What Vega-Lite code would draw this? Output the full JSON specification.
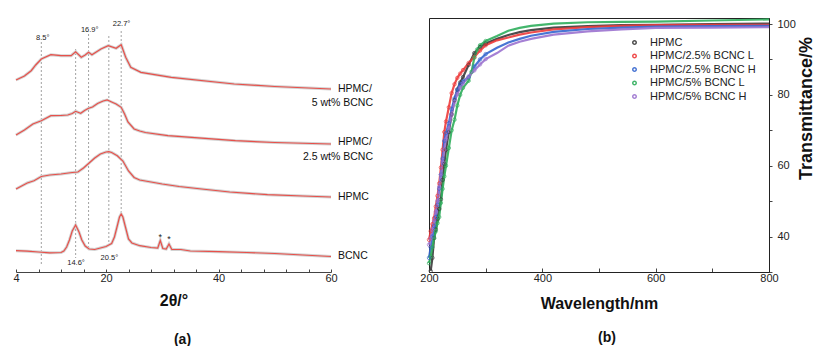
{
  "$schema": "https://vega.github.io/schema/vega-lite/v6.json",
  "padding": {"top": 14, "left": 10, "right": 0, "bottom": 0},
  "background": "white",
  "config": {
    "font": "Liberation Sans",
    "view": {"stroke": null},
    "axis": {"labelFont": "Liberation Sans", "titleFont": "Liberation Sans", "grid": false, "labelColor": "#222", "titleColor": "#111", "domainColor": "#444", "tickColor": "#444", "labelOverlap": false, "labelFlush": false},
    "title": {"font": "Liberation Sans"},
    "legend": {"labelFont": "Liberation Sans"}
  },
  "datasets": {
    "xrd": [
      {"s":"BCNC","t":4,"v":21.3},{"s":"BCNC","t":6,"v":20.8},{"s":"BCNC","t":8,"v":20},{"s":"BCNC","t":10,"v":19.2},{"s":"BCNC","t":12,"v":19.5},{"s":"BCNC","t":12.5,"v":21},{"s":"BCNC","t":13,"v":25},{"s":"BCNC","t":13.5,"v":32},{"s":"BCNC","t":14,"v":41},{"s":"BCNC","t":14.6,"v":47},{"s":"BCNC","t":15.2,"v":40},{"s":"BCNC","t":15.7,"v":32},{"s":"BCNC","t":16.3,"v":26},{"s":"BCNC","t":17,"v":23},{"s":"BCNC","t":18,"v":22.5},{"s":"BCNC","t":19,"v":24},{"s":"BCNC","t":20,"v":25.5},{"s":"BCNC","t":20.5,"v":27},{"s":"BCNC","t":21,"v":28.5},{"s":"BCNC","t":21.5,"v":35},{"s":"BCNC","t":22,"v":46},{"s":"BCNC","t":22.4,"v":55},{"s":"BCNC","t":22.7,"v":58},{"s":"BCNC","t":23,"v":55},{"s":"BCNC","t":23.5,"v":44},{"s":"BCNC","t":24,"v":33},{"s":"BCNC","t":24.6,"v":29},{"s":"BCNC","t":26,"v":26.3},{"s":"BCNC","t":28,"v":24.5},{"s":"BCNC","t":29.2,"v":24},{"s":"BCNC","t":29.65,"v":31.5},{"s":"BCNC","t":30.1,"v":23.5},{"s":"BCNC","t":30.7,"v":23},{"s":"BCNC","t":31.2,"v":28},{"s":"BCNC","t":31.7,"v":22.5},{"s":"BCNC","t":33.3,"v":22.5},{"s":"BCNC","t":35,"v":21},{"s":"BCNC","t":40,"v":20.3},{"s":"BCNC","t":45,"v":19.5},{"s":"BCNC","t":50,"v":18.5},{"s":"BCNC","t":55,"v":17},{"s":"BCNC","t":60,"v":15.5},
      {"s":"HPMC","t":4,"v":83},{"s":"HPMC","t":5,"v":86},{"s":"HPMC","t":6,"v":89},{"s":"HPMC","t":7.2,"v":91.3},{"s":"HPMC","t":8.5,"v":95.5},{"s":"HPMC","t":10,"v":97},{"s":"HPMC","t":12,"v":98},{"s":"HPMC","t":14,"v":99.5},{"s":"HPMC","t":15,"v":100},{"s":"HPMC","t":16,"v":104},{"s":"HPMC","t":17,"v":109},{"s":"HPMC","t":18,"v":114},{"s":"HPMC","t":19,"v":118},{"s":"HPMC","t":20,"v":120},{"s":"HPMC","t":20.5,"v":120.3},{"s":"HPMC","t":21,"v":119.5},{"s":"HPMC","t":22,"v":116.3},{"s":"HPMC","t":23,"v":111},{"s":"HPMC","t":24,"v":101},{"s":"HPMC","t":25,"v":94.5},{"s":"HPMC","t":26,"v":92},{"s":"HPMC","t":28,"v":90},{"s":"HPMC","t":30,"v":88},{"s":"HPMC","t":33,"v":85.5},{"s":"HPMC","t":37,"v":83},{"s":"HPMC","t":42,"v":80},{"s":"HPMC","t":48.7,"v":77.3},{"s":"HPMC","t":55,"v":76},{"s":"HPMC","t":60,"v":75},
      {"s":"H25","t":4,"v":137},{"s":"H25","t":5.5,"v":142},{"s":"H25","t":7,"v":148},{"s":"H25","t":8.5,"v":151.3},{"s":"H25","t":10.2,"v":156.3},{"s":"H25","t":12,"v":156.5},{"s":"H25","t":13.2,"v":157},{"s":"H25","t":14,"v":158.5},{"s":"H25","t":14.6,"v":160.7},{"s":"H25","t":15.5,"v":158.7},{"s":"H25","t":16.2,"v":161.5},{"s":"H25","t":16.9,"v":163.7},{"s":"H25","t":17.6,"v":165},{"s":"H25","t":18.5,"v":168.5},{"s":"H25","t":19.5,"v":171},{"s":"H25","t":20.2,"v":172},{"s":"H25","t":21.2,"v":169.5},{"s":"H25","t":21.8,"v":168},{"s":"H25","t":22.7,"v":164.7},{"s":"H25","t":23.3,"v":158},{"s":"H25","t":23.9,"v":150},{"s":"H25","t":25,"v":143},{"s":"H25","t":26,"v":141},{"s":"H25","t":27,"v":139.5},{"s":"H25","t":31,"v":136.3},{"s":"H25","t":43,"v":131.3},{"s":"H25","t":50,"v":129.5},{"s":"H25","t":60,"v":128},
      {"s":"H5","t":4,"v":192},{"s":"H5","t":5.5,"v":196},{"s":"H5","t":6.7,"v":201.3},{"s":"H5","t":7.5,"v":207},{"s":"H5","t":8.5,"v":213},{"s":"H5","t":10.2,"v":217.3},{"s":"H5","t":12,"v":216.3},{"s":"H5","t":13.8,"v":216.3},{"s":"H5","t":14.6,"v":220.3},{"s":"H5","t":15.6,"v":214.7},{"s":"H5","t":16.3,"v":217},{"s":"H5","t":16.9,"v":219.7},{"s":"H5","t":17.5,"v":217.3},{"s":"H5","t":19.1,"v":223},{"s":"H5","t":20.4,"v":226.3},{"s":"H5","t":21.8,"v":223.7},{"s":"H5","t":22.7,"v":227.3},{"s":"H5","t":23.5,"v":214.7},{"s":"H5","t":24.4,"v":204.7},{"s":"H5","t":26.2,"v":199.7},{"s":"H5","t":31.6,"v":194.7},{"s":"H5","t":42.8,"v":188},{"s":"H5","t":50,"v":185.5},{"s":"H5","t":60,"v":183}
    ],
    "rules": [
      {"t":8.5,"v":230,"v2":8},{"t":14.6,"v":223,"v2":14},{"t":16.9,"v":238,"v2":22},{"t":20.5,"v":236,"v2":26},{"t":22.7,"v":241,"v2":58}
    ],
    "peaks": [
      {"t":8.75,"v":234,"txt":"8.5°"},{"t":17.1,"v":242,"txt":"16.9°"},{"t":22.76,"v":248,"txt":"22.7°"},{"t":14.67,"v":9,"txt":"14.6°"},{"t":20.6,"v":14,"txt":"20.5°"}
    ],
    "stars": [
      {"t":29.65,"v":34.8,"txt":"*"},{"t":31.2,"v":33.2,"txt":"*"}
    ],
    "labL": [
      {"t":61.24,"v":183,"txt":"HPMC/"},{"t":61.24,"v":129.7,"txt":"HPMC/"},{"t":61.24,"v":75,"txt":"HPMC"},{"t":61.24,"v":16.3,"txt":"BCNC"}
    ],
    "labR": [
      {"t":67.47,"v":169,"txt":"5 wt% BCNC"},{"t":67.47,"v":114.7,"txt":"2.5 wt% BCNC"}
    ],
    "uv": [
      {"s":"HPMC","nm":203,"T":30.3},{"s":"HPMC","nm":206,"T":34},{"s":"HPMC","nm":209,"T":39.6},{"s":"HPMC","nm":212,"T":42},{"s":"HPMC","nm":215,"T":45},{"s":"HPMC","nm":218,"T":47.8},{"s":"HPMC","nm":221,"T":50.5},{"s":"HPMC","nm":224,"T":56},{"s":"HPMC","nm":227,"T":60.5},{"s":"HPMC","nm":230,"T":64.5},{"s":"HPMC","nm":235,"T":69.5},{"s":"HPMC","nm":240,"T":74.5},{"s":"HPMC","nm":245,"T":78.5},{"s":"HPMC","nm":250,"T":81.5},{"s":"HPMC","nm":255,"T":83.5},{"s":"HPMC","nm":260,"T":85},{"s":"HPMC","nm":270,"T":88.5},{"s":"HPMC","nm":280,"T":91.8},{"s":"HPMC","nm":290,"T":93.5},{"s":"HPMC","nm":300,"T":94.5},{"s":"HPMC","nm":320,"T":95.8},{"s":"HPMC","nm":340,"T":96.9},{"s":"HPMC","nm":360,"T":97.7},{"s":"HPMC","nm":380,"T":98.3},{"s":"HPMC","nm":420,"T":99},{"s":"HPMC","nm":480,"T":99.4},{"s":"HPMC","nm":540,"T":99.7},{"s":"HPMC","nm":600,"T":99.8},{"s":"HPMC","nm":700,"T":100},{"s":"HPMC","nm":800,"T":100.1},
      {"s":"HPMC/2.5% BCNC L","nm":200,"T":39.1},{"s":"HPMC/2.5% BCNC L","nm":203,"T":41.5},{"s":"HPMC/2.5% BCNC L","nm":206,"T":43.5},{"s":"HPMC/2.5% BCNC L","nm":209,"T":45.2},{"s":"HPMC/2.5% BCNC L","nm":212,"T":48.5},{"s":"HPMC/2.5% BCNC L","nm":215,"T":51.5},{"s":"HPMC/2.5% BCNC L","nm":218,"T":55},{"s":"HPMC/2.5% BCNC L","nm":221,"T":59.5},{"s":"HPMC/2.5% BCNC L","nm":224,"T":64.5},{"s":"HPMC/2.5% BCNC L","nm":227,"T":69.5},{"s":"HPMC/2.5% BCNC L","nm":230,"T":72.5},{"s":"HPMC/2.5% BCNC L","nm":235,"T":76.5},{"s":"HPMC/2.5% BCNC L","nm":240,"T":80.5},{"s":"HPMC/2.5% BCNC L","nm":245,"T":83},{"s":"HPMC/2.5% BCNC L","nm":250,"T":84.8},{"s":"HPMC/2.5% BCNC L","nm":255,"T":86},{"s":"HPMC/2.5% BCNC L","nm":260,"T":87},{"s":"HPMC/2.5% BCNC L","nm":270,"T":89},{"s":"HPMC/2.5% BCNC L","nm":280,"T":90.7},{"s":"HPMC/2.5% BCNC L","nm":290,"T":92.5},{"s":"HPMC/2.5% BCNC L","nm":300,"T":94},{"s":"HPMC/2.5% BCNC L","nm":320,"T":95.4},{"s":"HPMC/2.5% BCNC L","nm":340,"T":96.2},{"s":"HPMC/2.5% BCNC L","nm":360,"T":97},{"s":"HPMC/2.5% BCNC L","nm":380,"T":97.6},{"s":"HPMC/2.5% BCNC L","nm":420,"T":98.5},{"s":"HPMC/2.5% BCNC L","nm":480,"T":99.1},{"s":"HPMC/2.5% BCNC L","nm":540,"T":99.5},{"s":"HPMC/2.5% BCNC L","nm":600,"T":99.7},{"s":"HPMC/2.5% BCNC L","nm":700,"T":99.8},{"s":"HPMC/2.5% BCNC L","nm":800,"T":99.8},
      {"s":"HPMC/2.5% BCNC H","nm":200,"T":34},{"s":"HPMC/2.5% BCNC H","nm":203,"T":37},{"s":"HPMC/2.5% BCNC H","nm":206,"T":40},{"s":"HPMC/2.5% BCNC H","nm":209,"T":43},{"s":"HPMC/2.5% BCNC H","nm":212,"T":45.5},{"s":"HPMC/2.5% BCNC H","nm":215,"T":49},{"s":"HPMC/2.5% BCNC H","nm":218,"T":53.5},{"s":"HPMC/2.5% BCNC H","nm":221,"T":57.5},{"s":"HPMC/2.5% BCNC H","nm":224,"T":62},{"s":"HPMC/2.5% BCNC H","nm":227,"T":67},{"s":"HPMC/2.5% BCNC H","nm":230,"T":69.2},{"s":"HPMC/2.5% BCNC H","nm":235,"T":72},{"s":"HPMC/2.5% BCNC H","nm":240,"T":76},{"s":"HPMC/2.5% BCNC H","nm":245,"T":79},{"s":"HPMC/2.5% BCNC H","nm":250,"T":81.5},{"s":"HPMC/2.5% BCNC H","nm":255,"T":83},{"s":"HPMC/2.5% BCNC H","nm":260,"T":83.8},{"s":"HPMC/2.5% BCNC H","nm":270,"T":85},{"s":"HPMC/2.5% BCNC H","nm":280,"T":88},{"s":"HPMC/2.5% BCNC H","nm":290,"T":90},{"s":"HPMC/2.5% BCNC H","nm":300,"T":91.5},{"s":"HPMC/2.5% BCNC H","nm":320,"T":93.3},{"s":"HPMC/2.5% BCNC H","nm":340,"T":94.8},{"s":"HPMC/2.5% BCNC H","nm":360,"T":95.8},{"s":"HPMC/2.5% BCNC H","nm":380,"T":96.7},{"s":"HPMC/2.5% BCNC H","nm":420,"T":97.8},{"s":"HPMC/2.5% BCNC H","nm":480,"T":98.6},{"s":"HPMC/2.5% BCNC H","nm":540,"T":99},{"s":"HPMC/2.5% BCNC H","nm":600,"T":99.3},{"s":"HPMC/2.5% BCNC H","nm":700,"T":99.4},{"s":"HPMC/2.5% BCNC H","nm":800,"T":99.5},
      {"s":"HPMC/5% BCNC L","nm":200,"T":32.5},{"s":"HPMC/5% BCNC L","nm":203,"T":34.4},{"s":"HPMC/5% BCNC L","nm":206,"T":37},{"s":"HPMC/5% BCNC L","nm":209,"T":39.5},{"s":"HPMC/5% BCNC L","nm":212,"T":41.5},{"s":"HPMC/5% BCNC L","nm":215,"T":43.8},{"s":"HPMC/5% BCNC L","nm":218,"T":45.5},{"s":"HPMC/5% BCNC L","nm":221,"T":49.5},{"s":"HPMC/5% BCNC L","nm":224,"T":53.5},{"s":"HPMC/5% BCNC L","nm":227,"T":57},{"s":"HPMC/5% BCNC L","nm":230,"T":60},{"s":"HPMC/5% BCNC L","nm":235,"T":65},{"s":"HPMC/5% BCNC L","nm":240,"T":70},{"s":"HPMC/5% BCNC L","nm":245,"T":73},{"s":"HPMC/5% BCNC L","nm":250,"T":77},{"s":"HPMC/5% BCNC L","nm":255,"T":80},{"s":"HPMC/5% BCNC L","nm":260,"T":82},{"s":"HPMC/5% BCNC L","nm":270,"T":84},{"s":"HPMC/5% BCNC L","nm":275,"T":86.5},{"s":"HPMC/5% BCNC L","nm":280,"T":90.5},{"s":"HPMC/5% BCNC L","nm":285,"T":92.8},{"s":"HPMC/5% BCNC L","nm":290,"T":94},{"s":"HPMC/5% BCNC L","nm":300,"T":95.2},{"s":"HPMC/5% BCNC L","nm":320,"T":96.6},{"s":"HPMC/5% BCNC L","nm":340,"T":98.1},{"s":"HPMC/5% BCNC L","nm":360,"T":98.9},{"s":"HPMC/5% BCNC L","nm":380,"T":99.5},{"s":"HPMC/5% BCNC L","nm":420,"T":100.1},{"s":"HPMC/5% BCNC L","nm":480,"T":100.5},{"s":"HPMC/5% BCNC L","nm":540,"T":100.6},{"s":"HPMC/5% BCNC L","nm":600,"T":100.7},{"s":"HPMC/5% BCNC L","nm":700,"T":101},{"s":"HPMC/5% BCNC L","nm":800,"T":101.3},
      {"s":"HPMC/5% BCNC H","nm":200,"T":37.7},{"s":"HPMC/5% BCNC H","nm":203,"T":39.5},{"s":"HPMC/5% BCNC H","nm":206,"T":42},{"s":"HPMC/5% BCNC H","nm":209,"T":44.5},{"s":"HPMC/5% BCNC H","nm":212,"T":47},{"s":"HPMC/5% BCNC H","nm":215,"T":50},{"s":"HPMC/5% BCNC H","nm":218,"T":54},{"s":"HPMC/5% BCNC H","nm":221,"T":57.5},{"s":"HPMC/5% BCNC H","nm":224,"T":61},{"s":"HPMC/5% BCNC H","nm":227,"T":64.5},{"s":"HPMC/5% BCNC H","nm":230,"T":67.5},{"s":"HPMC/5% BCNC H","nm":235,"T":70.5},{"s":"HPMC/5% BCNC H","nm":240,"T":74.5},{"s":"HPMC/5% BCNC H","nm":245,"T":78},{"s":"HPMC/5% BCNC H","nm":250,"T":80.2},{"s":"HPMC/5% BCNC H","nm":255,"T":82},{"s":"HPMC/5% BCNC H","nm":260,"T":83.2},{"s":"HPMC/5% BCNC H","nm":270,"T":85.2},{"s":"HPMC/5% BCNC H","nm":280,"T":86.9},{"s":"HPMC/5% BCNC H","nm":290,"T":88.6},{"s":"HPMC/5% BCNC H","nm":300,"T":90.1},{"s":"HPMC/5% BCNC H","nm":320,"T":91.8},{"s":"HPMC/5% BCNC H","nm":340,"T":93.9},{"s":"HPMC/5% BCNC H","nm":360,"T":95},{"s":"HPMC/5% BCNC H","nm":380,"T":95.8},{"s":"HPMC/5% BCNC H","nm":420,"T":97},{"s":"HPMC/5% BCNC H","nm":480,"T":97.9},{"s":"HPMC/5% BCNC H","nm":540,"T":98.5},{"s":"HPMC/5% BCNC H","nm":600,"T":98.9},{"s":"HPMC/5% BCNC H","nm":700,"T":99},{"s":"HPMC/5% BCNC H","nm":800,"T":99.1}
    ]
  },
  "bounds": "flush",
  "spacing": 98,
  "hconcat": [
    {
      "width": 315,
      "height": 254,
      "title": {"text": "(a)", "orient": "bottom", "fontSize": 14, "fontWeight": "bold", "color": "#111", "anchor": "middle", "dx": 9, "offset": 25},
      "encoding": {
        "x": {"field": "t", "type": "quantitative", "scale": {"domain": [4, 60], "nice": false, "zero": false},
          "axis": {"values": [4,8,12,16,20,24,28,32,36,40,44,48,52,56,60], "labelExpr": "(datum.value == 4 || datum.value == 20 || datum.value == 40 || datum.value == 60) ? datum.label : ''", "tickSize": -3, "labelPadding": 3, "labelFontSize": 11, "title": "2θ/°", "titleFontSize": 16, "titleFontWeight": "bold", "titlePadding": 9}},
        "y": {"field": "v", "type": "quantitative", "scale": {"domain": [0, 254], "nice": false, "zero": false}, "axis": null}
      },
      "layer": [
        {"data": {"name": "rules"}, "mark": {"type": "rule", "color": "#8a8a8a", "strokeWidth": 0.8, "strokeDash": [2, 2]}, "encoding": {"y2": {"field": "v2"}}},
        {"data": {"name": "xrd"}, "mark": {"type": "line", "color": "#d2d2d2", "strokeWidth": 3}, "encoding": {"detail": {"field": "s"}}},
        {"data": {"name": "xrd"}, "mark": {"type": "line", "color": "#e8504a", "strokeWidth": 1.2}, "encoding": {"detail": {"field": "s"}}},
        {"data": {"name": "peaks"}, "mark": {"type": "text", "fontSize": 7.5, "color": "#222", "align": "center", "baseline": "middle"}, "encoding": {"text": {"field": "txt"}}},
        {"data": {"name": "stars"}, "mark": {"type": "text", "fontSize": 9, "color": "#222", "align": "center", "baseline": "middle"}, "encoding": {"text": {"field": "txt"}}},
        {"data": {"name": "labL"}, "mark": {"type": "text", "fontSize": 10.5, "color": "#111", "align": "left", "baseline": "middle"}, "encoding": {"text": {"field": "txt"}}},
        {"data": {"name": "labR"}, "mark": {"type": "text", "fontSize": 10.5, "color": "#111", "align": "right", "baseline": "middle"}, "encoding": {"text": {"field": "txt"}}}
      ]
    },
    {
      "width": 340,
      "height": 254,
      "view": {"stroke": "#222", "strokeWidth": 1},
      "title": {"text": "(b)", "orient": "bottom", "fontSize": 14, "fontWeight": "bold", "color": "#111", "anchor": "middle", "dx": 8, "offset": 20},
      "data": {"name": "uv"},
      "encoding": {
        "x": {"field": "nm", "type": "quantitative", "scale": {"domain": [200, 800], "nice": false, "zero": false},
          "axis": {"values": [200,300,400,500,600,700,800], "labelExpr": "(datum.value == 200 || datum.value == 400 || datum.value == 600 || datum.value == 800) ? datum.label : ''", "tickSize": -4, "labelPadding": 4, "labelFontSize": 11, "title": "Wavelength/nm", "titleFontSize": 16, "titleFontWeight": "bold", "titlePadding": 12, "domainColor": "#222"}},
        "y": {"field": "T", "type": "quantitative", "scale": {"domain": [30, 101.7], "nice": false, "zero": false},
          "axis": {"orient": "right", "values": [30,40,50,60,70,80,90,100], "labelExpr": "(datum.value == 40 || datum.value == 60 || datum.value == 80 || datum.value == 100) ? datum.label : ''", "tickSize": 3, "labelPadding": 5, "labelFontSize": 11, "title": "Transmittance/%", "titleFontSize": 18, "titleFontWeight": "bold", "titleAngle": 270, "titleAlign": "center", "titleBaseline": "middle", "titleX": 37, "titleY": 90, "domainColor": "#222"}},
        "color": {"field": "s", "type": "nominal", "scale": {"domain": ["HPMC", "HPMC/2.5% BCNC L", "HPMC/2.5% BCNC H", "HPMC/5% BCNC L", "HPMC/5% BCNC H"], "range": ["#3a3a3a", "#ee3b3b", "#3566cf", "#2fae5c", "#9b72cf"]},
          "legend": {"title": null, "orient": "none", "legendX": 613, "legendY": 19, "padding": 0, "labelFontSize": 11, "labelColor": "#222", "symbolType": "circle", "symbolSize": 12, "symbolStrokeWidth": 1.5, "labelOffset": 10, "rowPadding": 1.5}}
      },
      "layer": [
        {"mark": {"type": "line", "strokeWidth": 2.2, "opacity": 0.9}},
        {"transform": [{"filter": "datum.nm <= 300"}],
          "mark": {"type": "point", "filled": false, "size": 12, "strokeWidth": 1}}
      ]
    }
  ]
}
